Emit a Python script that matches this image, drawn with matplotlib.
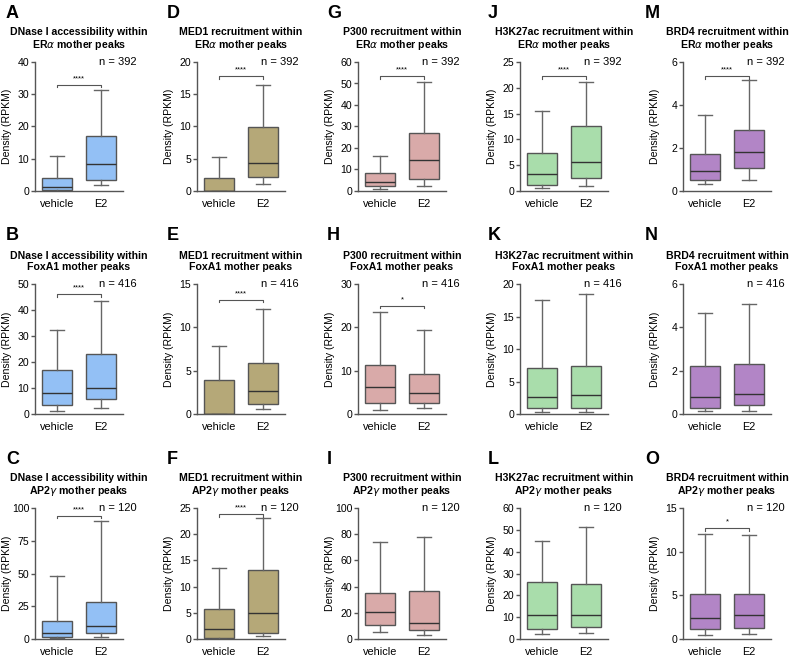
import matplotlib.pyplot as plt

plt.rcParams['font.family'] = ['Liberation Sans', 'DejaVu Sans']
plt.rcParams['mathtext.fontset'] = 'dejavusans'

# one column per factor, one row per mother-peak set
factors = ['DNase I accessibility within', 'MED1 recruitment within', 'P300 recruitment within',
           'H3K27ac recruitment within', 'BRD4 recruitment within']
peak_sets = [r'ER$\alpha$ mother peaks', 'FoxA1 mother peaks', r'AP2$\gamma$ mother peaks']
letters = [['A', 'B', 'C'], ['D', 'E', 'F'], ['G', 'H', 'I'], ['J', 'K', 'L'], ['M', 'N', 'O']]
groups = ['vehicle', 'E2']
n_peaks = [392, 416, 120]
colors = ['#93c0f5', '#b5a878', '#d9aaa9', '#a9ddab', '#b285c6']

y_max = [[40, 50, 100], [20, 15, 25], [60, 30, 100], [25, 20, 60], [6, 6, 15]]
y_step = [[10, 10, 25], [5, 5, 5], [10, 10, 20], [5, 5, 10], [2, 2, 5]]

# whisker low, Q1, median, Q3, whisker high
vehicle_stats = [
    [[0, 0.3, 1.2, 4, 10.7], [1, 3.5, 8, 17, 32.3], [0.5, 1.5, 4.5, 14, 48]],
    [[0, 0, 0, 2, 5.3], [0, 0, 0, 3.9, 7.8], [0, 0.1, 2, 5.8, 13.5]],
    [[0.8, 2.2, 4, 8.2, 16.2], [1, 2.5, 6.2, 11.3, 23.5], [5, 10.5, 20.5, 35, 74]],
    [[0.5, 1.2, 3.2, 7.3, 15.5], [0.3, 0.9, 2.6, 7.1, 17.6], [2.5, 4.5, 11, 26, 45]],
    [[0.33, 0.5, 0.95, 1.72, 3.55], [0.15, 0.3, 0.8, 2.2, 4.67], [0.5, 1.2, 2.4, 5.2, 12]],
]
e2_stats = [
    [[1.8, 3.3, 8.3, 17, 31.2], [2.5, 5.7, 10, 23, 43.3], [1.5, 4.5, 10, 28.5, 90]],
    [[1.1, 2.2, 4.4, 9.9, 16.5], [0.6, 1.1, 2.7, 5.9, 12.1], [0.6, 1.2, 5, 13.2, 23]],
    [[2.3, 5.7, 14.3, 27.2, 50.8], [1.3, 2.5, 4.8, 9.2, 19.4], [3, 7, 12.5, 36.5, 77.5]],
    [[0.9, 2.5, 5.6, 12.5, 21.1], [0.3, 0.9, 2.9, 7.4, 18.5], [2.7, 5.7, 11, 25, 51.3]],
    [[0.52, 1.05, 1.82, 2.85, 5.15], [0.12, 0.4, 0.93, 2.33, 5.07], [0.6, 1.3, 2.7, 5.2, 11.9]],
]

sig_label = [['****', '****', '****'], ['****', '****', '****'], ['****', '*', ''],
             ['****', '', ''], ['****', '', '*']]
sig_y = [[33, 46, 94], [17.8, 13.2, 23.8], [53.5, 25, None], [22.3, None, None], [5.35, None, 12.7]]

W, H = 796, 660
fig = plt.figure(figsize=(W / 100, H / 100), dpi=100)

col_left = [35, 197, 358, 520, 683]
row_top = [62, 284, 508]
row_bottom = [191, 414, 639]
letter_x = [6, 167, 327, 488, 645]
ax_w = 88


def to_stats(v, label):
    return dict(whislo=v[0], q1=v[1], med=v[2], q3=v[3], whishi=v[4], label=label)


for c in range(5):
    for r in range(3):
        ax = fig.add_axes([col_left[c] / W, 1 - row_bottom[r] / H,
                           ax_w / W, (row_bottom[r] - row_top[r]) / H])
        stats = [to_stats(vehicle_stats[c][r], groups[0]), to_stats(e2_stats[c][r], groups[1])]
        ax.bxp(stats, positions=[1, 2], widths=0.7, showfliers=False, patch_artist=True,
               boxprops=dict(facecolor=colors[c], edgecolor='#555555', linewidth=1),
               medianprops=dict(color='#333333', linewidth=1),
               whiskerprops=dict(color='#666666', linewidth=1),
               capprops=dict(color='#666666', linewidth=1), capwidths=0.3)
        ax.set_xlim(0.5, 2.5)
        ax.set_ylim(0, y_max[c][r])
        ax.set_yticks(range(0, y_max[c][r] + 1, y_step[c][r]))
        ax.spines['top'].set_visible(False)
        ax.spines['right'].set_visible(False)
        for s in ['left', 'bottom']:
            ax.spines[s].set_color('#555555')
            ax.spines[s].set_linewidth(1)
        ax.tick_params(axis='x', length=0, labelsize=7.8, pad=6)
        ax.tick_params(axis='y', length=3, width=1, color='#555555', labelsize=7.6, pad=1.2)
        ax.set_ylabel('Density (RPKM)', fontsize=7.6)
        ax.yaxis.set_label_coords(-23 / ax_w, 0.5)
        ax.set_title(factors[c] + '\n' + peak_sets[r], fontsize=7.6, fontweight='bold',
                     pad=10, linespacing=1.15)
        ax.text(2.82, y_max[c][r], 'n = %d' % n_peaks[r], ha='right', va='center',
                fontsize=8, clip_on=False)
        if sig_label[c][r]:
            y = sig_y[c][r]
            tick = y_max[c][r] * 0.02
            ax.plot([1, 1, 2, 2], [y - tick, y, y, y - tick], color='#555555', linewidth=0.8)
            ax.text(1.5, y + y_max[c][r] * 0.02, sig_label[c][r], ha='center', va='bottom',
                    fontsize=5.5)
        fig.text(letter_x[c] / W, 1 - (row_top[r] - 57) / H, letters[c][r], ha='left', va='top',
                 fontsize=13, fontweight='bold')

fig.savefig('out.png', dpi=100)
